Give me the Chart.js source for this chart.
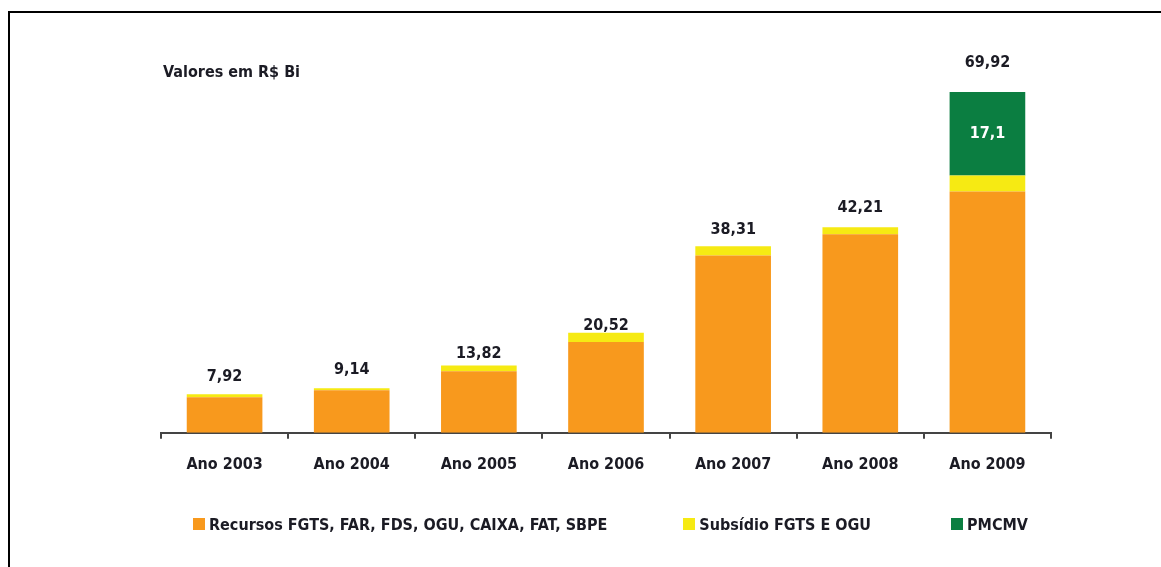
<!DOCTYPE html>
<html>
<head>
<meta charset="utf-8">
<script src="https://cdn.jsdelivr.net/npm/chart.js@4"></script>
<style>
  html, body { margin: 0; padding: 0; background: #fff; }
  #wrap { position: relative; width: 1161px; height: 567px; overflow: hidden; }
  #frame {
    position: absolute; left: 8px; top: 11px; right: -10px; bottom: -10px;
    border-left: 2px solid #000; border-top: 2px solid #000;
    pointer-events: none;
  }
  #legend {
    position: absolute; left: 193px; top: 514px; height: 20px;
    display: flex; align-items: center;
    font-family: 'DejaVu Sans Condensed', 'DejaVu Sans', sans-serif;
    font-stretch: condensed; font-weight: bold; font-size: 16px; color: #1b1b24;
    white-space: nowrap;
  }
  #legend .item { display: flex; align-items: center; }
  #legend .box { width: 12px; height: 12px; margin-right: 4px; }
</style>
</head>
<body>
<div id="wrap">
  <canvas id="habitacao"></canvas>
  <div id="legend"></div>
  <div id="frame"></div>
</div>
<script>
const categories = ["Ano 2003", "Ano 2004", "Ano 2005", "Ano 2006", "Ano 2007", "Ano 2008", "Ano 2009"];
const recursos = [7.32, 8.74, 12.65, 18.66, 36.40, 40.75, 49.54];
const subsidio = [0.60, 0.40, 1.17, 1.86, 1.91, 1.46, 3.28];
const pmcmv = [null, null, null, null, null, null, 17.1];
const totals = [7.92, 9.14, 13.82, 20.52, 38.31, 42.21, 69.92];

const FONT = "'DejaVu Sans Condensed', 'DejaVu Sans', sans-serif";
const TEXT = "#1b1b24";
// gap between bar top and the total label, per bar
const labelGap = [17, 18, 12, 7, 16, 19, 29];
// space after each legend item
const legendGap = [76, 80, 0];

function fmt(v) {
  return String(v).replace(".", ",");
}

const labelsPlugin = {
  id: "labels",
  afterDatasetsDraw(chart) {
    const ctx = chart.ctx;
    const area = chart.chartArea;
    ctx.save();
    // title
    ctx.font = "bold 16px " + FONT;
    ctx.fillStyle = TEXT;
    ctx.textAlign = "left";
    ctx.textBaseline = "middle";
    ctx.fillText("Valores em R$ Bi", area.left + 2, 73);

    // totals above each bar
    const yScale = chart.scales.y;
    ctx.font = "bold 16px " + FONT;
    ctx.textAlign = "center";
    totals.forEach(function (t, i) {
      const x = chart.getDatasetMeta(0).data[i].x;
      const y = yScale.getPixelForValue(t);
      ctx.fillText(fmt(t), x, y - labelGap[i]);
    });

    // value inside green segment
    ctx.fillStyle = "#ffffff";
    chart.getDatasetMeta(2).data.forEach(function (bar, i) {
      if (pmcmv[i] == null) return;
      ctx.fillText(fmt(pmcmv[i]), bar.x, (bar.y + bar.base) / 2);
    });
    ctx.restore();
  },
};

document.addEventListener("DOMContentLoaded", function () {
  const el = document.getElementById("habitacao");
  const chart = new Chart(el, {
    type: "bar",
    data: {
      labels: categories,
      datasets: [
        {
          label: "Recursos FGTS, FAR, FDS, OGU, CAIXA, FAT, SBPE",
          data: recursos,
          backgroundColor: "#F8991D",
        },
        {
          label: "Subsídio FGTS E OGU",
          data: subsidio,
          backgroundColor: "#F6EA13",
        },
        {
          label: "PMCMV",
          data: pmcmv,
          backgroundColor: "#0B7E41",
        },
      ],
    },
    options: {
      responsive: true,
      maintainAspectRatio: false,
      animation: false,
      layout: {
        padding: { left: 161, right: 110, top: 43, bottom: 77 },
      },
      datasets: {
        bar: {
          categoryPercentage: 1,
          barPercentage: 0.595,
          borderWidth: 0,
        },
      },
      scales: {
        x: {
          stacked: true,
          border: { display: true, color: "#444", width: 2 },
          grid: {
            offset: true,
            drawOnChartArea: false,
            drawTicks: true,
            tickLength: 6,
            color: "#444",
            lineWidth: 2,
          },
          ticks: {
            color: TEXT,
            padding: 16,
            font: { family: FONT, size: 16, weight: "bold" },
          },
        },
        y: {
          stacked: true,
          display: false,
          min: 0,
          max: 80,
        },
      },
      plugins: {
        tooltip: { enabled: false },
        legend: { display: false },
      },
    },
    plugins: [labelsPlugin],
  });

  // html legend built from the chart's datasets
  const legend = document.getElementById("legend");
  chart.data.datasets.forEach(function (ds, i) {
    const item = document.createElement("div");
    item.className = "item";
    item.style.marginRight = legendGap[i] + "px";
    const box = document.createElement("span");
    box.className = "box";
    box.style.background = ds.backgroundColor;
    const txt = document.createElement("span");
    txt.textContent = ds.label;
    item.appendChild(box);
    item.appendChild(txt);
    legend.appendChild(item);
  });
});
</script>
</body>
</html>
